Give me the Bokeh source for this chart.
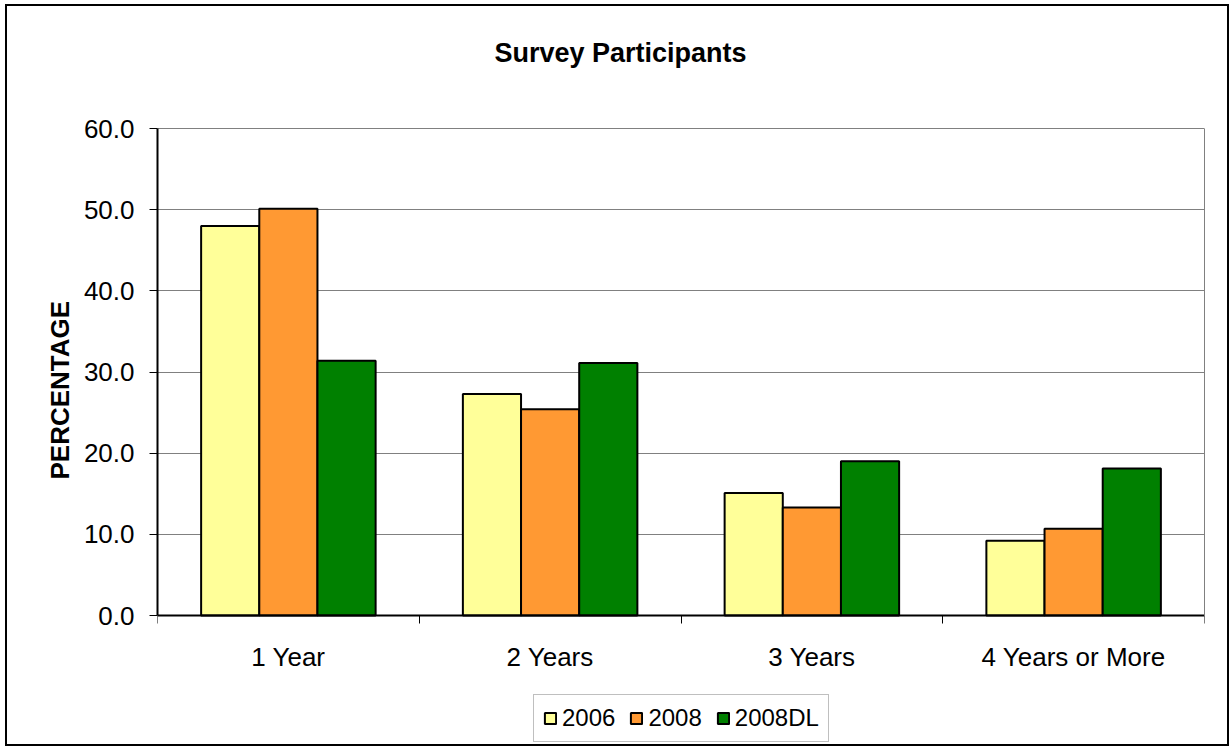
from bokeh.plotting import figure
from bokeh.models import (Range1d, FixedTicker, NumeralTickFormatter, Legend,
                          LegendItem, Title, Label, LinearAxis)
from bokeh.embed import file_html
from bokeh.resources import INLINE

# Survey data (percent of participants by years of experience)
categories = ["1 Year", "2 Years", "3 Years", "4 Years or More"]
series_names = ["2006", "2008", "2008DL"]
values_2006 = [48.0, 27.3, 15.1, 9.2]
values_2008 = [50.1, 25.4, 13.3, 10.7]
values_2008dl = [31.4, 31.1, 19.0, 18.1]
y_ticks = [0, 10, 20, 30, 40, 50, 60]

series_values = [values_2006, values_2008, values_2008dl]
colors = ["#FFFF99", "#FF9933", "#008000"]
FONT = "Liberation Sans"

W, H = 1231, 749
PLOT_TOP, PLOT_BOTTOM = 128, 615      # pixel rows of the 60 and 0 gridlines
PAD_TOP, PAD_BOTTOM = 5, 5
Y_MAX = 60

n = len(categories)
bar_w = 1 / 4.5  # three bars plus a 150% gap per category

# the frame reaches past the value axis so the title, category labels and
# legend can sit inside it; the range is stretched to keep 0..60 in place
ppu = (PLOT_BOTTOM - PLOT_TOP) / Y_MAX
y_hi = Y_MAX + (PLOT_TOP - PAD_TOP) / ppu
y_lo = -((H - PAD_BOTTOM) - PLOT_BOTTOM) / ppu

p = figure(width=W, height=H, output_backend="svg", toolbar_location=None,
           x_range=Range1d(0, n), y_range=Range1d(y_lo, y_hi),
           min_border_left=157, min_border_right=27,
           min_border_top=PAD_TOP, min_border_bottom=PAD_BOTTOM)
p.title.visible = False

renderers = []
for j, (name, vals, col) in enumerate(zip(series_names, series_values, colors)):
    xs = [i + 0.5 + (j - 1) * bar_w for i in range(n)]
    r = p.vbar(x=xs, top=vals, width=bar_w, bottom=0, fill_color=col,
               line_color="black", line_width=2)
    renderers.append(r)

# value axis
yax = p.yaxis[0]
yax.ticker = FixedTicker(ticks=y_ticks)
yax.formatter = NumeralTickFormatter(format="0.0")
yax.bounds = (0, Y_MAX)
yax.major_tick_out = 8
yax.major_tick_in = 0
yax.minor_tick_line_color = None
yax.major_label_text_font = FONT
yax.major_label_text_font_size = "26px"
yax.major_label_text_color = "black"
yax.major_label_standoff = 15
yax.axis_line_color = "black"
yax.axis_line_width = 2
yax.major_tick_line_color = "black"

p.add_layout(Title(text="PERCENTAGE", align="left", offset=265,
                   text_font=FONT, text_font_size="26px",
                   text_font_style="bold", text_color="black", standoff=12),
             "left")

# plot-area border on the right
right_edge = LinearAxis(ticker=FixedTicker(ticks=[]), bounds=(0, Y_MAX),
                        axis_line_color="#808080", axis_line_width=1,
                        major_tick_line_color=None, minor_tick_line_color=None,
                        major_label_text_font_size="0px")
p.add_layout(right_edge, "right")

# category axis at y = 0: labels at category centres, ticks at boundaries
xax = p.xaxis[0]
xax.fixed_location = 0
xax.ticker = FixedTicker(ticks=[i + 0.5 for i in range(n)],
                         minor_ticks=list(range(n + 1)))
xax.major_label_overrides = {i + 0.5: c for i, c in enumerate(categories)}
xax.major_tick_line_color = None
xax.major_tick_out = 8
xax.major_tick_in = 0
xax.minor_tick_out = 8
xax.minor_tick_in = 0
xax.minor_tick_line_color = "black"
xax.major_label_text_font = FONT
xax.major_label_text_font_size = "26px"
xax.major_label_text_color = "black"
xax.major_label_standoff = 18
xax.axis_line_color = "black"
xax.axis_line_width = 2

p.xgrid.grid_line_color = None
p.ygrid.ticker = FixedTicker(ticks=y_ticks)
p.ygrid.grid_line_color = "#808080"
p.ygrid.grid_line_width = 1
p.outline_line_color = None
p.background_fill_color = "white"
p.border_fill_color = "white"

# chart title, centred over the chart area
p.add_layout(Label(x=(620 - 157) / (1047 / n), y=Y_MAX + (PLOT_TOP - 52) / ppu,
                   text="Survey Participants", text_font=FONT,
                   text_font_size="27px", text_font_style="bold",
                   text_color="black", text_align="center",
                   text_baseline="middle"))

legend = Legend(items=[LegendItem(label=nm, renderers=[r])
                       for nm, r in zip(series_names, renderers)],
                orientation="horizontal", location=(376, 2),
                label_text_font=FONT, label_text_font_size="24px",
                label_text_color="black",
                glyph_width=14, glyph_height=14, label_standoff=5, spacing=14,
                padding=9, margin=0, border_line_color="#808080",
                border_line_width=1, background_fill_color="white",
                background_fill_alpha=1)
p.add_layout(legend, "center")

# chart area border around the whole canvas
p.stylesheets = [
    ":host { position: relative; }"
    ":host::after { content: ''; position: absolute; left: 5px; top: 4px;"
    " width: 1224px; height: 742px; box-sizing: border-box;"
    " border: 2px solid black; pointer-events: none; }"
]

open("out.html", "w").write(file_html(p, INLINE))
